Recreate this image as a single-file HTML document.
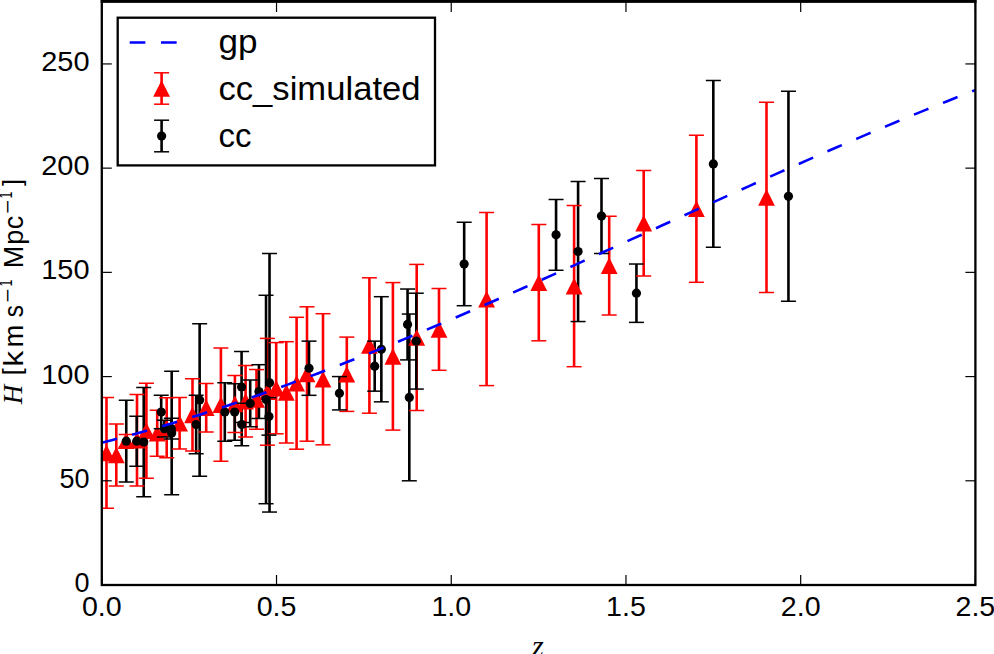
<!DOCTYPE html><html><head><meta charset="utf-8"><title>H(z)</title><style>html,body{margin:0;padding:0;background:#fff;}svg{display:block;}text{font-family:"Liberation Sans",sans-serif;fill:#000;}</style></head><body>
<svg width="994" height="654" viewBox="0 0 994 654">
<rect width="994" height="654" fill="#fff"/>
<defs><clipPath id="ax"><rect x="101.8" y="1.4" width="873.6" height="583.6"/></clipPath></defs>
<g clip-path="url(#ax)">
<g stroke="#ff0000" stroke-width="2.6">
<line x1="106.5" y1="397.5" x2="106.5" y2="508.3"/>
<line x1="116.3" y1="424.1" x2="116.3" y2="485.9"/>
<line x1="126.2" y1="434.4" x2="126.2" y2="447"/>
<line x1="137" y1="394.4" x2="137" y2="485.9"/>
<line x1="146.4" y1="383.3" x2="146.4" y2="478.2"/>
<line x1="157.2" y1="410.3" x2="157.2" y2="456.2"/>
<line x1="166.7" y1="397.7" x2="166.7" y2="457.7"/>
<line x1="179.6" y1="397.6" x2="179.6" y2="449"/>
<line x1="192.5" y1="378.8" x2="192.5" y2="451"/>
<line x1="206.2" y1="383.4" x2="206.2" y2="431.9"/>
<line x1="220.9" y1="348.1" x2="220.9" y2="461.3"/>
<line x1="234.9" y1="375.4" x2="234.9" y2="432.4"/>
<line x1="245.6" y1="365.6" x2="245.6" y2="436.9"/>
<line x1="256.5" y1="369.6" x2="256.5" y2="429.2"/>
<line x1="267.4" y1="338.4" x2="267.4" y2="445.2"/>
<line x1="276.2" y1="342.6" x2="276.2" y2="433.8"/>
<line x1="286.3" y1="341.7" x2="286.3" y2="443"/>
<line x1="296.6" y1="317.3" x2="296.6" y2="449.2"/>
<line x1="307" y1="306.8" x2="307" y2="441.2"/>
<line x1="323" y1="313.7" x2="323" y2="444.8"/>
<line x1="346.8" y1="337.1" x2="346.8" y2="411.4"/>
<line x1="369.4" y1="277.8" x2="369.4" y2="413.2"/>
<line x1="392.9" y1="282.6" x2="392.9" y2="430.1"/>
<line x1="416.7" y1="264.4" x2="416.7" y2="410.5"/>
<line x1="439" y1="288.5" x2="439" y2="370.3"/>
<line x1="486.6" y1="212.6" x2="486.6" y2="385.6"/>
<line x1="538.8" y1="224.4" x2="538.8" y2="340.8"/>
<line x1="574.1" y1="205.6" x2="574.1" y2="366.7"/>
<line x1="609.2" y1="216.2" x2="609.2" y2="315"/>
<line x1="643.7" y1="170.5" x2="643.7" y2="276"/>
<line x1="696.4" y1="135.3" x2="696.4" y2="282.3"/>
<line x1="766.5" y1="102.2" x2="766.5" y2="292.5"/>
</g>
<g stroke="#000" stroke-width="2.6">
<line x1="126.26" y1="400.33" x2="126.26" y2="482.04"/>
<line x1="136.74" y1="416.17" x2="136.74" y2="466.2"/>
<line x1="143.73" y1="387.41" x2="143.73" y2="496.63"/>
<line x1="161.2" y1="395.33" x2="161.2" y2="428.68"/>
<line x1="164.35" y1="420.34" x2="164.35" y2="437.02"/>
<line x1="171.34" y1="418.26" x2="171.34" y2="439.1"/>
<line x1="171.69" y1="371.36" x2="171.69" y2="494.75"/>
<line x1="196.15" y1="395.33" x2="196.15" y2="453.69"/>
<line x1="199.64" y1="323.63" x2="199.64" y2="476.2"/>
<line x1="224.8" y1="382.82" x2="224.8" y2="441.18"/>
<line x1="234.66" y1="383.87" x2="234.66" y2="440.14"/>
<line x1="241.58" y1="351.56" x2="241.58" y2="422.43"/>
<line x1="241.72" y1="403.25" x2="241.72" y2="445.77"/>
<line x1="250.21" y1="380.11" x2="250.21" y2="426.8"/>
<line x1="258.94" y1="364.69" x2="258.94" y2="418.47"/>
<line x1="266.04" y1="295.28" x2="266.04" y2="503.71"/>
<line x1="268.94" y1="397.62" x2="268.94" y2="435.14"/>
<line x1="269.53" y1="253.6" x2="269.53" y2="512.05"/>
<line x1="309.02" y1="341.14" x2="309.02" y2="395.33"/>
<line x1="339.42" y1="376.57" x2="339.42" y2="409.92"/>
<line x1="374.71" y1="341.14" x2="374.71" y2="391.16"/>
<line x1="381.35" y1="296.7" x2="381.35" y2="401.83"/>
<line x1="407.56" y1="289.03" x2="407.56" y2="359.9"/>
<line x1="409.31" y1="314.04" x2="409.31" y2="480.79"/>
<line x1="416.3" y1="293.2" x2="416.3" y2="389.08"/>
<line x1="464.17" y1="222.33" x2="464.17" y2="305.71"/>
<line x1="556.07" y1="199.41" x2="556.07" y2="270.27"/>
<line x1="578.09" y1="181.48" x2="578.09" y2="321.55"/>
<line x1="601.5" y1="178.56" x2="601.5" y2="253.6"/>
<line x1="636.44" y1="264.02" x2="636.44" y2="322.38"/>
<line x1="713.32" y1="80.6" x2="713.32" y2="247.35"/>
<line x1="788.45" y1="91.23" x2="788.45" y2="301.33"/>
</g>
<g fill="#ff0000">
<path d="M106.5 444.6L114.9 461.2L98.1 461.2Z"/>
<path d="M116.3 446.7L124.7 463.3L107.9 463.3Z"/>
<path d="M126.2 432.4L134.6 449L117.8 449Z"/>
<path d="M137 431.85L145.4 448.45L128.6 448.45Z"/>
<path d="M146.4 422.45L154.8 439.05L138 439.05Z"/>
<path d="M157.2 424.95L165.6 441.55L148.8 441.55Z"/>
<path d="M166.7 419.4L175.1 436L158.3 436Z"/>
<path d="M179.6 415L188 431.6L171.2 431.6Z"/>
<path d="M192.5 406.6L200.9 423.2L184.1 423.2Z"/>
<path d="M206.2 399.35L214.6 415.95L197.8 415.95Z"/>
<path d="M220.9 396.4L229.3 413L212.5 413Z"/>
<path d="M234.9 395.6L243.3 412.2L226.5 412.2Z"/>
<path d="M245.6 392.95L254 409.55L237.2 409.55Z"/>
<path d="M256.5 391.1L264.9 407.7L248.1 407.7Z"/>
<path d="M267.4 383.5L275.8 400.1L259 400.1Z"/>
<path d="M276.2 379.9L284.6 396.5L267.8 396.5Z"/>
<path d="M286.3 384.05L294.7 400.65L277.9 400.65Z"/>
<path d="M296.6 374.95L305 391.55L288.2 391.55Z"/>
<path d="M307 365.7L315.4 382.3L298.6 382.3Z"/>
<path d="M323 370.95L331.4 387.55L314.6 387.55Z"/>
<path d="M346.8 365.95L355.2 382.55L338.4 382.55Z"/>
<path d="M369.4 337.2L377.8 353.8L361 353.8Z"/>
<path d="M392.9 348.05L401.3 364.65L384.5 364.65Z"/>
<path d="M416.7 329.15L425.1 345.75L408.3 345.75Z"/>
<path d="M439 321.1L447.4 337.7L430.6 337.7Z"/>
<path d="M486.6 290.8L495 307.4L478.2 307.4Z"/>
<path d="M538.8 274.3L547.2 290.9L530.4 290.9Z"/>
<path d="M574.1 277.85L582.5 294.45L565.7 294.45Z"/>
<path d="M609.2 257.3L617.6 273.9L600.8 273.9Z"/>
<path d="M643.7 214.95L652.1 231.55L635.3 231.55Z"/>
<path d="M696.4 200.5L704.8 217.1L688 217.1Z"/>
<path d="M766.5 189.05L774.9 205.65L758.1 205.65Z"/>
</g>
<g stroke="#ff0000" stroke-width="1.5">
<line x1="99" y1="397.5" x2="114" y2="397.5"/>
<line x1="99" y1="508.3" x2="114" y2="508.3"/>
<line x1="108.8" y1="424.1" x2="123.8" y2="424.1"/>
<line x1="108.8" y1="485.9" x2="123.8" y2="485.9"/>
<line x1="118.7" y1="434.4" x2="133.7" y2="434.4"/>
<line x1="118.7" y1="447" x2="133.7" y2="447"/>
<line x1="129.5" y1="394.4" x2="144.5" y2="394.4"/>
<line x1="129.5" y1="485.9" x2="144.5" y2="485.9"/>
<line x1="138.9" y1="383.3" x2="153.9" y2="383.3"/>
<line x1="138.9" y1="478.2" x2="153.9" y2="478.2"/>
<line x1="149.7" y1="410.3" x2="164.7" y2="410.3"/>
<line x1="149.7" y1="456.2" x2="164.7" y2="456.2"/>
<line x1="159.2" y1="397.7" x2="174.2" y2="397.7"/>
<line x1="159.2" y1="457.7" x2="174.2" y2="457.7"/>
<line x1="172.1" y1="397.6" x2="187.1" y2="397.6"/>
<line x1="172.1" y1="449" x2="187.1" y2="449"/>
<line x1="185" y1="378.8" x2="200" y2="378.8"/>
<line x1="185" y1="451" x2="200" y2="451"/>
<line x1="198.7" y1="383.4" x2="213.7" y2="383.4"/>
<line x1="198.7" y1="431.9" x2="213.7" y2="431.9"/>
<line x1="213.4" y1="348.1" x2="228.4" y2="348.1"/>
<line x1="213.4" y1="461.3" x2="228.4" y2="461.3"/>
<line x1="227.4" y1="375.4" x2="242.4" y2="375.4"/>
<line x1="227.4" y1="432.4" x2="242.4" y2="432.4"/>
<line x1="238.1" y1="365.6" x2="253.1" y2="365.6"/>
<line x1="238.1" y1="436.9" x2="253.1" y2="436.9"/>
<line x1="249" y1="369.6" x2="264" y2="369.6"/>
<line x1="249" y1="429.2" x2="264" y2="429.2"/>
<line x1="259.9" y1="338.4" x2="274.9" y2="338.4"/>
<line x1="259.9" y1="445.2" x2="274.9" y2="445.2"/>
<line x1="268.7" y1="342.6" x2="283.7" y2="342.6"/>
<line x1="268.7" y1="433.8" x2="283.7" y2="433.8"/>
<line x1="278.8" y1="341.7" x2="293.8" y2="341.7"/>
<line x1="278.8" y1="443" x2="293.8" y2="443"/>
<line x1="289.1" y1="317.3" x2="304.1" y2="317.3"/>
<line x1="289.1" y1="449.2" x2="304.1" y2="449.2"/>
<line x1="299.5" y1="306.8" x2="314.5" y2="306.8"/>
<line x1="299.5" y1="441.2" x2="314.5" y2="441.2"/>
<line x1="315.5" y1="313.7" x2="330.5" y2="313.7"/>
<line x1="315.5" y1="444.8" x2="330.5" y2="444.8"/>
<line x1="339.3" y1="337.1" x2="354.3" y2="337.1"/>
<line x1="339.3" y1="411.4" x2="354.3" y2="411.4"/>
<line x1="361.9" y1="277.8" x2="376.9" y2="277.8"/>
<line x1="361.9" y1="413.2" x2="376.9" y2="413.2"/>
<line x1="385.4" y1="282.6" x2="400.4" y2="282.6"/>
<line x1="385.4" y1="430.1" x2="400.4" y2="430.1"/>
<line x1="409.2" y1="264.4" x2="424.2" y2="264.4"/>
<line x1="409.2" y1="410.5" x2="424.2" y2="410.5"/>
<line x1="431.5" y1="288.5" x2="446.5" y2="288.5"/>
<line x1="431.5" y1="370.3" x2="446.5" y2="370.3"/>
<line x1="479.1" y1="212.6" x2="494.1" y2="212.6"/>
<line x1="479.1" y1="385.6" x2="494.1" y2="385.6"/>
<line x1="531.3" y1="224.4" x2="546.3" y2="224.4"/>
<line x1="531.3" y1="340.8" x2="546.3" y2="340.8"/>
<line x1="566.6" y1="205.6" x2="581.6" y2="205.6"/>
<line x1="566.6" y1="366.7" x2="581.6" y2="366.7"/>
<line x1="601.7" y1="216.2" x2="616.7" y2="216.2"/>
<line x1="601.7" y1="315" x2="616.7" y2="315"/>
<line x1="636.2" y1="170.5" x2="651.2" y2="170.5"/>
<line x1="636.2" y1="276" x2="651.2" y2="276"/>
<line x1="688.9" y1="135.3" x2="703.9" y2="135.3"/>
<line x1="688.9" y1="282.3" x2="703.9" y2="282.3"/>
<line x1="759" y1="102.2" x2="774" y2="102.2"/>
<line x1="759" y1="292.5" x2="774" y2="292.5"/>
</g>
<g fill="#000">
<circle cx="126.26" cy="441.18" r="4.6"/>
<circle cx="136.74" cy="441.18" r="4.6"/>
<circle cx="143.73" cy="442.02" r="4.6"/>
<circle cx="161.2" cy="412" r="4.6"/>
<circle cx="164.35" cy="428.68" r="4.6"/>
<circle cx="171.34" cy="428.68" r="4.6"/>
<circle cx="171.69" cy="433.06" r="4.6"/>
<circle cx="196.15" cy="424.51" r="4.6"/>
<circle cx="199.64" cy="399.92" r="4.6"/>
<circle cx="224.8" cy="412" r="4.6"/>
<circle cx="234.66" cy="412" r="4.6"/>
<circle cx="241.58" cy="386.99" r="4.6"/>
<circle cx="241.72" cy="424.51" r="4.6"/>
<circle cx="250.21" cy="403.46" r="4.6"/>
<circle cx="258.94" cy="391.58" r="4.6"/>
<circle cx="266.04" cy="399.5" r="4.6"/>
<circle cx="268.94" cy="416.38" r="4.6"/>
<circle cx="269.53" cy="382.82" r="4.6"/>
<circle cx="309.02" cy="368.23" r="4.6"/>
<circle cx="339.42" cy="393.25" r="4.6"/>
<circle cx="374.71" cy="366.15" r="4.6"/>
<circle cx="381.35" cy="349.27" r="4.6"/>
<circle cx="407.56" cy="324.46" r="4.6"/>
<circle cx="409.31" cy="397.41" r="4.6"/>
<circle cx="416.3" cy="341.14" r="4.6"/>
<circle cx="464.17" cy="264.02" r="4.6"/>
<circle cx="556.07" cy="234.84" r="4.6"/>
<circle cx="578.09" cy="251.51" r="4.6"/>
<circle cx="601.5" cy="216.08" r="4.6"/>
<circle cx="636.44" cy="293.2" r="4.6"/>
<circle cx="713.32" cy="163.97" r="4.6"/>
<circle cx="788.45" cy="196.28" r="4.6"/>
</g>
<g stroke="#000" stroke-width="1.5">
<line x1="118.76" y1="400.33" x2="133.76" y2="400.33"/>
<line x1="118.76" y1="482.04" x2="133.76" y2="482.04"/>
<line x1="129.24" y1="416.17" x2="144.24" y2="416.17"/>
<line x1="129.24" y1="466.2" x2="144.24" y2="466.2"/>
<line x1="136.23" y1="387.41" x2="151.23" y2="387.41"/>
<line x1="136.23" y1="496.63" x2="151.23" y2="496.63"/>
<line x1="153.7" y1="395.33" x2="168.7" y2="395.33"/>
<line x1="153.7" y1="428.68" x2="168.7" y2="428.68"/>
<line x1="156.85" y1="420.34" x2="171.85" y2="420.34"/>
<line x1="156.85" y1="437.02" x2="171.85" y2="437.02"/>
<line x1="163.84" y1="418.26" x2="178.84" y2="418.26"/>
<line x1="163.84" y1="439.1" x2="178.84" y2="439.1"/>
<line x1="164.19" y1="371.36" x2="179.19" y2="371.36"/>
<line x1="164.19" y1="494.75" x2="179.19" y2="494.75"/>
<line x1="188.65" y1="395.33" x2="203.65" y2="395.33"/>
<line x1="188.65" y1="453.69" x2="203.65" y2="453.69"/>
<line x1="192.14" y1="323.63" x2="207.14" y2="323.63"/>
<line x1="192.14" y1="476.2" x2="207.14" y2="476.2"/>
<line x1="217.3" y1="382.82" x2="232.3" y2="382.82"/>
<line x1="217.3" y1="441.18" x2="232.3" y2="441.18"/>
<line x1="227.16" y1="383.87" x2="242.16" y2="383.87"/>
<line x1="227.16" y1="440.14" x2="242.16" y2="440.14"/>
<line x1="234.08" y1="351.56" x2="249.08" y2="351.56"/>
<line x1="234.08" y1="422.43" x2="249.08" y2="422.43"/>
<line x1="234.22" y1="403.25" x2="249.22" y2="403.25"/>
<line x1="234.22" y1="445.77" x2="249.22" y2="445.77"/>
<line x1="242.71" y1="380.11" x2="257.71" y2="380.11"/>
<line x1="242.71" y1="426.8" x2="257.71" y2="426.8"/>
<line x1="251.44" y1="364.69" x2="266.44" y2="364.69"/>
<line x1="251.44" y1="418.47" x2="266.44" y2="418.47"/>
<line x1="258.54" y1="295.28" x2="273.54" y2="295.28"/>
<line x1="258.54" y1="503.71" x2="273.54" y2="503.71"/>
<line x1="261.44" y1="397.62" x2="276.44" y2="397.62"/>
<line x1="261.44" y1="435.14" x2="276.44" y2="435.14"/>
<line x1="262.03" y1="253.6" x2="277.03" y2="253.6"/>
<line x1="262.03" y1="512.05" x2="277.03" y2="512.05"/>
<line x1="301.52" y1="341.14" x2="316.52" y2="341.14"/>
<line x1="301.52" y1="395.33" x2="316.52" y2="395.33"/>
<line x1="331.92" y1="376.57" x2="346.92" y2="376.57"/>
<line x1="331.92" y1="409.92" x2="346.92" y2="409.92"/>
<line x1="367.21" y1="341.14" x2="382.21" y2="341.14"/>
<line x1="367.21" y1="391.16" x2="382.21" y2="391.16"/>
<line x1="373.85" y1="296.7" x2="388.85" y2="296.7"/>
<line x1="373.85" y1="401.83" x2="388.85" y2="401.83"/>
<line x1="400.06" y1="289.03" x2="415.06" y2="289.03"/>
<line x1="400.06" y1="359.9" x2="415.06" y2="359.9"/>
<line x1="401.81" y1="314.04" x2="416.81" y2="314.04"/>
<line x1="401.81" y1="480.79" x2="416.81" y2="480.79"/>
<line x1="408.8" y1="293.2" x2="423.8" y2="293.2"/>
<line x1="408.8" y1="389.08" x2="423.8" y2="389.08"/>
<line x1="456.67" y1="222.33" x2="471.67" y2="222.33"/>
<line x1="456.67" y1="305.71" x2="471.67" y2="305.71"/>
<line x1="548.57" y1="199.41" x2="563.57" y2="199.41"/>
<line x1="548.57" y1="270.27" x2="563.57" y2="270.27"/>
<line x1="570.59" y1="181.48" x2="585.59" y2="181.48"/>
<line x1="570.59" y1="321.55" x2="585.59" y2="321.55"/>
<line x1="594" y1="178.56" x2="609" y2="178.56"/>
<line x1="594" y1="253.6" x2="609" y2="253.6"/>
<line x1="628.94" y1="264.02" x2="643.94" y2="264.02"/>
<line x1="628.94" y1="322.38" x2="643.94" y2="322.38"/>
<line x1="705.82" y1="80.6" x2="720.82" y2="80.6"/>
<line x1="705.82" y1="247.35" x2="720.82" y2="247.35"/>
<line x1="780.95" y1="91.23" x2="795.95" y2="91.23"/>
<line x1="780.95" y1="301.33" x2="795.95" y2="301.33"/>
</g>
<polyline points="101.8,442.78 111.62,440.26 121.43,437.67 131.25,435.02 141.06,432.29 150.88,429.51 160.69,426.66 170.51,423.75 180.33,420.77 190.14,417.74 199.96,414.65 209.77,411.5 219.59,408.29 229.4,405.03 239.22,401.71 249.04,398.35 258.85,394.93 268.67,391.46 278.48,387.94 288.3,384.38 298.11,380.76 307.93,377.11 317.75,373.41 327.56,369.66 337.38,365.88 347.19,362.05 357.01,358.19 366.82,354.29 376.64,350.35 386.46,346.38 396.27,342.37 406.09,338.33 415.9,334.26 425.72,330.15 435.53,326.02 445.35,321.86 455.17,317.68 464.98,313.46 474.8,309.23 484.61,304.97 494.43,300.69 504.24,296.39 514.06,292.07 523.88,287.73 533.69,283.38 543.51,279.01 553.32,274.62 563.14,270.22 572.96,265.82 582.77,261.4 592.59,256.97 602.4,252.53 612.22,248.08 622.03,243.63 631.85,239.18 641.67,234.72 651.48,230.26 661.3,225.8 671.11,221.34 680.93,216.88 690.74,212.43 700.56,207.98 710.38,203.53 720.19,199.09 730.01,194.66 739.82,190.24 749.64,185.83 759.45,181.43 769.27,177.04 779.09,172.67 788.9,168.31 798.72,163.97 808.53,159.65 818.35,155.34 828.16,151.06 837.98,146.8 847.8,142.56 857.61,138.34 867.43,134.15 877.24,129.98 887.06,125.85 896.87,121.74 906.69,117.66 916.51,113.62 926.32,109.6 936.14,105.62 945.95,101.68 955.77,97.77 965.58,93.9 975.4,90.07" fill="none" stroke="#0000ff" stroke-width="2.6" stroke-dasharray="15.66 15.66"/>
</g>
<rect x="101.8" y="1.4" width="873.6" height="583.6" fill="none" stroke="#000" stroke-width="2.3"/>
<line x1="100.65" y1="1.4" x2="976.55" y2="1.4" stroke="#000" stroke-width="2.8"/>
<g stroke="#000" stroke-width="1.2">
<line x1="101.8" y1="585" x2="101.8" y2="575"/>
<line x1="101.8" y1="1.4" x2="101.8" y2="12"/>
<line x1="276.52" y1="585" x2="276.52" y2="575"/>
<line x1="276.52" y1="1.4" x2="276.52" y2="12"/>
<line x1="451.24" y1="585" x2="451.24" y2="575"/>
<line x1="451.24" y1="1.4" x2="451.24" y2="12"/>
<line x1="625.96" y1="585" x2="625.96" y2="575"/>
<line x1="625.96" y1="1.4" x2="625.96" y2="12"/>
<line x1="800.68" y1="585" x2="800.68" y2="575"/>
<line x1="800.68" y1="1.4" x2="800.68" y2="12"/>
<line x1="975.4" y1="585" x2="975.4" y2="575"/>
<line x1="975.4" y1="1.4" x2="975.4" y2="12"/>
<line x1="101.8" y1="585" x2="111.8" y2="585"/>
<line x1="975.4" y1="585" x2="965.4" y2="585"/>
<line x1="101.8" y1="480.79" x2="111.8" y2="480.79"/>
<line x1="975.4" y1="480.79" x2="965.4" y2="480.79"/>
<line x1="101.8" y1="376.57" x2="111.8" y2="376.57"/>
<line x1="975.4" y1="376.57" x2="965.4" y2="376.57"/>
<line x1="101.8" y1="272.36" x2="111.8" y2="272.36"/>
<line x1="975.4" y1="272.36" x2="965.4" y2="272.36"/>
<line x1="101.8" y1="168.14" x2="111.8" y2="168.14"/>
<line x1="975.4" y1="168.14" x2="965.4" y2="168.14"/>
<line x1="101.8" y1="63.93" x2="111.8" y2="63.93"/>
<line x1="975.4" y1="63.93" x2="965.4" y2="63.93"/>
</g>
<text x="89.6" y="592.1" font-size="27" text-anchor="end">0</text>
<text x="89.6" y="487.89" font-size="27" text-anchor="end">50</text>
<text x="89.6" y="383.67" font-size="27" text-anchor="end" textLength="48.34" lengthAdjust="spacingAndGlyphs">100</text>
<text x="89.6" y="279.46" font-size="27" text-anchor="end" textLength="48.34" lengthAdjust="spacingAndGlyphs">150</text>
<text x="89.6" y="175.24" font-size="27" text-anchor="end" textLength="48.34" lengthAdjust="spacingAndGlyphs">200</text>
<text x="89.6" y="71.03" font-size="27" text-anchor="end" textLength="48.34" lengthAdjust="spacingAndGlyphs">250</text>
<text x="101.8" y="615.5" font-size="27" text-anchor="middle" textLength="39.73" lengthAdjust="spacingAndGlyphs">0.0</text>
<text x="276.52" y="615.5" font-size="27" text-anchor="middle" textLength="39.73" lengthAdjust="spacingAndGlyphs">0.5</text>
<text x="451.24" y="615.5" font-size="27" text-anchor="middle" textLength="39.73" lengthAdjust="spacingAndGlyphs">1.0</text>
<text x="625.96" y="615.5" font-size="27" text-anchor="middle" textLength="39.73" lengthAdjust="spacingAndGlyphs">1.5</text>
<text x="800.68" y="615.5" font-size="27" text-anchor="middle" textLength="39.73" lengthAdjust="spacingAndGlyphs">2.0</text>
<text x="975.4" y="615.5" font-size="27" text-anchor="middle" textLength="39.73" lengthAdjust="spacingAndGlyphs">2.5</text>
<rect x="117.7" y="17.7" width="317.3" height="147.7" fill="#fff" stroke="#000" stroke-width="2.3"/>
<line x1="129.7" y1="42.5" x2="177.1" y2="42.5" stroke="#0000ff" stroke-width="2.6" stroke-dasharray="15.66 15.66"/>
<line x1="161.6" y1="72.8" x2="161.6" y2="104.2" stroke="#ff0000" stroke-width="2.6"/>
<path d="M161.6 80.2L170 96.8L153.2 96.8Z" fill="#ff0000"/>
<line x1="154.1" y1="72.8" x2="169.1" y2="72.8" stroke="#ff0000" stroke-width="1.5"/>
<line x1="154.1" y1="104.2" x2="169.1" y2="104.2" stroke="#ff0000" stroke-width="1.5"/>
<line x1="161.6" y1="120.2" x2="161.6" y2="151.8" stroke="#000" stroke-width="2.6"/>
<circle cx="161.6" cy="136" r="4.6" fill="#000"/>
<line x1="154.1" y1="120.2" x2="169.1" y2="120.2" stroke="#000" stroke-width="1.5"/>
<line x1="154.1" y1="151.8" x2="169.1" y2="151.8" stroke="#000" stroke-width="1.5"/>
<text x="218.5" y="52.8" font-size="33" textLength="39" lengthAdjust="spacingAndGlyphs">gp</text>
<text x="218.5" y="100.2" font-size="33" textLength="202" lengthAdjust="spacingAndGlyphs">cc_simulated</text>
<text x="218.5" y="146.5" font-size="33">cc</text>
<text x="532" y="656" font-size="30" font-family="Liberation Serif" font-style="italic" style="font-family:'Liberation Serif',serif">z</text>
<g transform="translate(0 0) rotate(-90)">
<text x="-394.45" y="22.2" font-size="27" text-anchor="middle" style="font-family:'Liberation Serif',serif;font-style:italic">H</text>
<text x="-371.7" y="20.8" font-size="25.4" text-anchor="middle">[</text>
<text x="-358.7" y="23" font-size="27" text-anchor="middle" textLength="15.6" lengthAdjust="spacingAndGlyphs">k</text>
<text x="-336.1" y="23" font-size="27" text-anchor="middle">m</text>
<text x="-311.05" y="23" font-size="27" text-anchor="middle" textLength="12.2" lengthAdjust="spacingAndGlyphs">s</text>
<text x="-295.6" y="13.9" font-size="19" text-anchor="middle" textLength="13.9" lengthAdjust="spacingAndGlyphs">−</text>
<text x="-283" y="11.8" font-size="19" text-anchor="middle" textLength="6.9" lengthAdjust="spacingAndGlyphs">1</text>
<text x="-257.05" y="23" font-size="27" text-anchor="middle">M</text>
<text x="-237.3" y="23" font-size="27" text-anchor="middle">p</text>
<text x="-222.6" y="23" font-size="27" text-anchor="middle">c</text>
<text x="-206.85" y="13.9" font-size="19" text-anchor="middle" textLength="13.9" lengthAdjust="spacingAndGlyphs">−</text>
<text x="-195.1" y="11.8" font-size="19" text-anchor="middle" textLength="6.9" lengthAdjust="spacingAndGlyphs">1</text>
<text x="-182.55" y="20.8" font-size="25.4" text-anchor="middle">]</text>
</g>
</svg></body></html>
